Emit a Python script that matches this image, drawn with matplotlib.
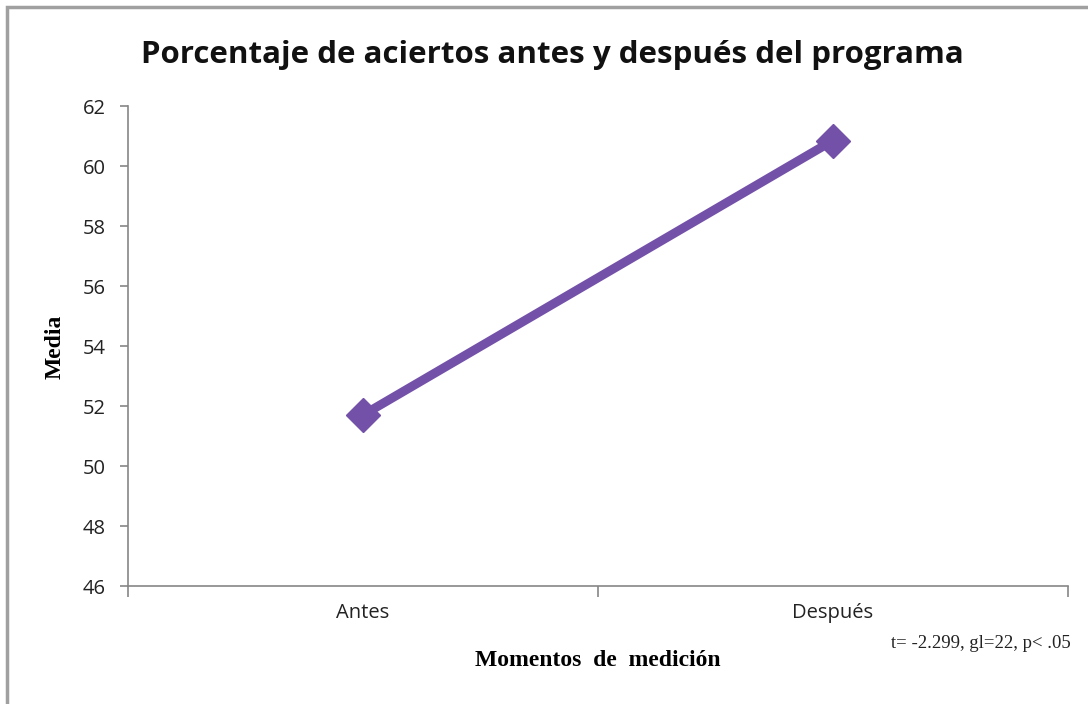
import matplotlib.pyplot as plt
from matplotlib.patches import Rectangle

# data
momentos = ['Antes', 'Después']
media = [51.7, 60.85]
y_ticks = [46, 48, 50, 52, 54, 56, 58, 60, 62]

fig = plt.figure(figsize=(10.88, 7.04), dpi=100)
ax = fig.add_axes([128/1088, 1 - 586/704, 940/1088, 480/704])

# outer chart border
fig.patches.append(Rectangle((7/1088, -0.1), 1.2, 1 - 7/704 + 0.1, transform=fig.transFigure,
                             fill=False, edgecolor='#a0a0a0', linewidth=2.5))

xpos = [0.5, 1.5]
ax.plot(xpos, media, color='#7451a8', linewidth=6.5, marker='D', markersize=17,
        solid_capstyle='butt', zorder=3)

ax.set_xlim(0, 2)
ax.set_ylim(46, 62)
ax.set_yticks(y_ticks)
ax.set_yticklabels([str(v) for v in y_ticks], fontsize=14.5, family='Open Sans', color='#222222')
ax.set_xticks([0, 1, 2])
ax.set_xticklabels([])
ax.set_xticks(xpos, minor=True)
ax.set_xticklabels(momentos, minor=True, fontsize=14.5, family='Open Sans', color='#222222')
ax.tick_params(axis='x', which='major', length=8, direction='out', color='#868686', width=1.2)
ax.tick_params(axis='x', which='minor', length=0, pad=12)
ax.tick_params(axis='y', length=6, direction='out', color='#868686', width=1.2, pad=10)

for s in ['top', 'right']:
    ax.spines[s].set_visible(False)
for s in ['left', 'bottom']:
    ax.spines[s].set_color('#868686')
    ax.spines[s].set_linewidth(1.2)

fig.text(552/1088, 1 - 55/704, 'Porcentaje de aciertos antes y después del programa',
         ha='center', va='center', fontsize=22.5, fontweight='bold', family='Open Sans', color='#111111')
fig.text(55/1088, 1 - 347/704, 'Media', rotation=90, ha='center', va='center',
         fontsize=17, fontweight='bold', family='Liberation Serif')
fig.text(598/1088, 1 - 661/704, 'Momentos  de  medición', ha='center', va='center',
         fontsize=17, fontweight='bold', family='Liberation Serif')
fig.text(981/1088, 1 - 643/704, 't= -2.299, gl=22, p< .05', ha='center', va='center',
         fontsize=13.5, family='Liberation Serif', color='#222222')

fig.savefig('out.png', dpi=100)
